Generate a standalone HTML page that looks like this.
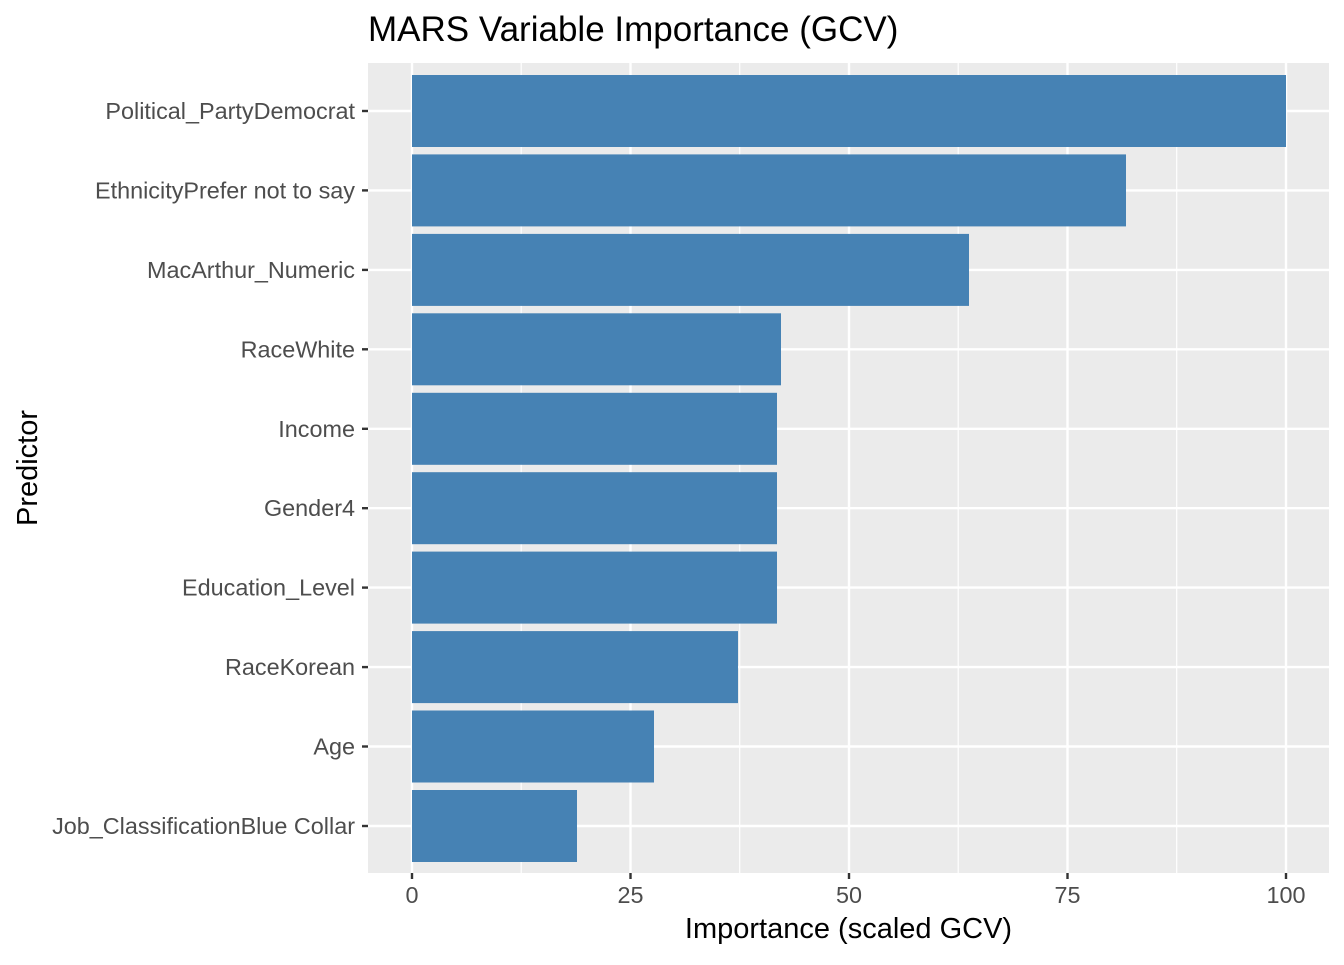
<!DOCTYPE html>
<html><head><style>body{margin:0;background:#fff}</style></head><body>
<svg width="1344" height="960" xmlns="http://www.w3.org/2000/svg" font-family="Liberation Sans, sans-serif">
<rect x="368" y="63" width="961" height="810" fill="#ebebeb"/>
<g stroke="#fff" stroke-width="1.2">
<line x1="521.2" y1="63" x2="521.2" y2="873"/><line x1="739.7" y1="63" x2="739.7" y2="873"/><line x1="958.2" y1="63" x2="958.2" y2="873"/><line x1="1176.7" y1="63" x2="1176.7" y2="873"/>
</g>
<g stroke="#fff" stroke-width="2.4">
<line x1="412" y1="63" x2="412" y2="873"/><line x1="630.5" y1="63" x2="630.5" y2="873"/><line x1="849" y1="63" x2="849" y2="873"/><line x1="1067.5" y1="63" x2="1067.5" y2="873"/><line x1="1286" y1="63" x2="1286" y2="873"/>
<line x1="368" y1="111" x2="1329" y2="111"/><line x1="368" y1="190.4" x2="1329" y2="190.4"/><line x1="368" y1="269.9" x2="1329" y2="269.9"/><line x1="368" y1="349.3" x2="1329" y2="349.3"/><line x1="368" y1="428.8" x2="1329" y2="428.8"/><line x1="368" y1="508.2" x2="1329" y2="508.2"/><line x1="368" y1="587.6" x2="1329" y2="587.6"/><line x1="368" y1="667.1" x2="1329" y2="667.1"/><line x1="368" y1="746.5" x2="1329" y2="746.5"/><line x1="368" y1="826" x2="1329" y2="826"/>
</g>
<g fill="#4682b4">
<rect x="412" y="75" width="874" height="72"/>
<rect x="412" y="154.4" width="714" height="72"/>
<rect x="412" y="233.9" width="557" height="72"/>
<rect x="412" y="313.3" width="369" height="72"/>
<rect x="412" y="392.8" width="365" height="72"/>
<rect x="412" y="472.2" width="365" height="72"/>
<rect x="412" y="551.6" width="365" height="72"/>
<rect x="412" y="631.1" width="326" height="72"/>
<rect x="412" y="710.5" width="242" height="72"/>
<rect x="412" y="790" width="165" height="72"/>
</g>
<g stroke="#333" stroke-width="2.4">
<line x1="362" y1="111" x2="368" y2="111"/><line x1="362" y1="190.4" x2="368" y2="190.4"/><line x1="362" y1="269.9" x2="368" y2="269.9"/><line x1="362" y1="349.3" x2="368" y2="349.3"/><line x1="362" y1="428.8" x2="368" y2="428.8"/><line x1="362" y1="508.2" x2="368" y2="508.2"/><line x1="362" y1="587.6" x2="368" y2="587.6"/><line x1="362" y1="667.1" x2="368" y2="667.1"/><line x1="362" y1="746.5" x2="368" y2="746.5"/><line x1="362" y1="826" x2="368" y2="826"/>
<line x1="412" y1="873" x2="412" y2="879"/><line x1="630.5" y1="873" x2="630.5" y2="879"/><line x1="849" y1="873" x2="849" y2="879"/><line x1="1067.5" y1="873" x2="1067.5" y2="879"/><line x1="1286" y1="873" x2="1286" y2="879"/>
</g>
<g fill="#4d4d4d" font-size="23.4" text-anchor="end">
<text x="355" y="119">Political_PartyDemocrat</text>
<text x="355" y="198.4">EthnicityPrefer not to say</text>
<text x="355" y="277.9">MacArthur_Numeric</text>
<text x="355" y="357.3">RaceWhite</text>
<text x="355" y="436.8">Income</text>
<text x="355" y="516.2">Gender4</text>
<text x="355" y="595.6">Education_Level</text>
<text x="355" y="675.1">RaceKorean</text>
<text x="355" y="754.5">Age</text>
<text x="355" y="834">Job_ClassificationBlue Collar</text>
</g>
<g fill="#4d4d4d" font-size="23.4" text-anchor="middle">
<text x="412" y="903">0</text><text x="630.5" y="903">25</text><text x="849" y="903">50</text><text x="1067.5" y="903">75</text><text x="1286" y="903">100</text>
</g>
<text x="848.5" y="938" font-size="29" text-anchor="middle" fill="#000">Importance (scaled GCV)</text>
<text transform="translate(37,468) rotate(-90)" font-size="29" text-anchor="middle" fill="#000">Predictor</text>
<text x="368" y="41" font-size="35" fill="#000">MARS Variable Importance (GCV)</text>
</svg>
</body></html>
